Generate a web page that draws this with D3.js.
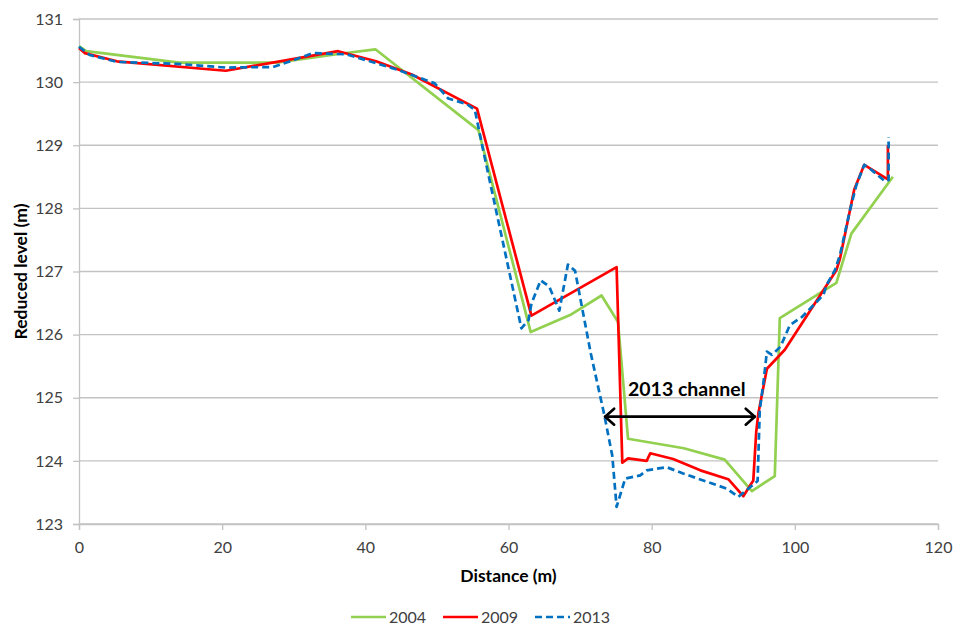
<!DOCTYPE html>
<html>
<head>
<meta charset="utf-8">
<script src="https://cdn.jsdelivr.net/npm/d3@7"></script>
<style>
  html, body { margin: 0; padding: 0; background: #fff; }
  svg { display: block; font-family: Lato, "Open Sans", sans-serif; }
</style>
</head>
<body>
<svg id="chart" width="956" height="628"></svg>
<script>
// Cross-section survey: distance across the section (m) vs reduced level (m)
const dist2004  = [0, 1, 14, 27.6, 36.5, 41.4, 55.8, 63.1, 68.6, 73.0, 75.3, 76.7, 84.5, 90.2, 94.0, 97.2, 97.9, 105.8, 107.9, 113.7];
const level2004 = [130.57, 130.49, 130.31, 130.31, 130.45, 130.52, 129.24, 126.04, 126.31, 126.62, 126.2, 124.35, 124.2, 124.02, 123.52, 123.76, 126.26, 126.82, 127.6, 128.5];

const dist2009  = [0, 0.8, 5.3, 20.5, 36.2, 41.5, 46.5, 55.6, 63.2, 75.1, 75.9, 76.7, 79.3, 79.8, 83.0, 86.8, 90.7, 92.8, 94.2, 94.6, 94.9, 96.1, 98.6, 105.8, 106.3, 108.3, 109.7, 113.0, 113.0];
const level2009 = [130.54, 130.46, 130.33, 130.18, 130.49, 130.33, 130.12, 129.58, 126.3, 127.07, 123.97, 124.04, 124.0, 124.12, 124.03, 123.85, 123.71, 123.44, 123.69, 124.45, 124.75, 125.46, 125.76, 127.02, 127.2, 128.3, 128.69, 128.46, 129.0];

const dist2013  = [0, 1.5, 5.3, 13.6, 20.6, 27.1, 29.0, 32.7, 37.4, 44.4, 49.7, 51.6, 54.2, 55.3, 56.5, 61.8, 62.8, 63.2, 64.5, 65.7, 67.1, 68.3, 69.3, 71.5, 73.4, 74.5, 75.1, 76.3, 78.4, 79.3, 82.1, 84.4, 90.5, 92.1, 93.3, 94.8, 95.1, 95.6, 96.1, 96.8, 98.0, 99.3, 101.0, 104.0, 104.4, 105.6, 106.3, 107.7, 108.6, 109.7, 110.7, 112.6, 113.1, 113.1];
const level2013 = [130.56, 130.43, 130.32, 130.29, 130.23, 130.24, 130.31, 130.46, 130.44, 130.2, 129.98, 129.74, 129.65, 129.56, 128.9, 126.1, 126.23, 126.49, 126.86, 126.76, 126.38, 127.11, 127.01, 125.7, 124.72, 124.08, 123.27, 123.72, 123.77, 123.85, 123.9, 123.8, 123.56, 123.43, 123.54, 123.68, 124.8, 125.23, 125.73, 125.68, 125.81, 126.15, 126.28, 126.63, 126.78, 127.02, 127.26, 127.97, 128.37, 128.69, 128.61, 128.43, 128.45, 129.13];

const seriesNames  = ["2004", "2009", "2013"];
const seriesColors = ["#92D050", "#FF0000", "#0070C0"];
const seriesDash   = [null, null, "7,4"];

const xTicks = [0, 20, 40, 60, 80, 100, 120];
const yTicks = [123, 124, 125, 126, 127, 128, 129, 130, 131];

// Extent of the 2013 channel, marked with a double arrow
const channelFrom = 73.5, channelTo = 94.4, channelLevel = 124.7;
const channelLabel = "2013 channel";

const svg = d3.select("#chart");
const margin = { left: 79, right: 18, top: 19, bottom: 104 };
const W = 956, H = 628;

const x = d3.scaleLinear().domain([0, 120]).range([margin.left, W - margin.right]);
const y = d3.scaleLinear().domain([123, 131]).range([H - margin.bottom, margin.top]);

// horizontal gridlines
svg.append("g")
  .selectAll("line")
  .data(yTicks)
  .join("line")
  .attr("x1", x(0)).attr("x2", x(120))
  .attr("y1", d => y(d)).attr("y2", d => y(d))
  .attr("stroke", "#c3c3c3").attr("stroke-width", 1.3);

// y axis
const yAxis = svg.append("g")
  .attr("transform", `translate(${x(0)},0)`)
  .call(d3.axisLeft(y).tickValues(yTicks).tickSize(6).tickPadding(10).tickFormat(d3.format("d")));
yAxis.select(".domain").attr("stroke", "#c3c3c3").attr("stroke-width", 1.3);
yAxis.selectAll(".tick line").attr("stroke", "#c3c3c3").attr("stroke-width", 1.3);
yAxis.selectAll("text").attr("font-size", 16).attr("fill", "#404040").attr("font-family", "Lato, sans-serif");

// x axis
const xAxis = svg.append("g")
  .attr("transform", `translate(0,${y(123)})`)
  .call(d3.axisBottom(x).tickValues(xTicks).tickSize(6).tickPadding(12).tickFormat(d3.format("d")));
xAxis.select(".domain").attr("stroke", "#c3c3c3").attr("stroke-width", 1.3);
xAxis.selectAll(".tick line").attr("stroke", "#c3c3c3").attr("stroke-width", 1.3);
xAxis.selectAll("text").attr("font-size", 16).attr("fill", "#404040").attr("font-family", "Lato, sans-serif");

// axis titles
svg.append("text")
  .attr("x", (x(0) + x(120)) / 2).attr("y", 582)
  .attr("text-anchor", "middle")
  .attr("font-size", 17.5).attr("font-weight", "bold").attr("fill", "#000")
  .text("Distance (m)");

svg.append("text")
  .attr("transform", `translate(27,${(y(123) + y(131)) / 2}) rotate(-90)`)
  .attr("text-anchor", "middle")
  .attr("font-size", 17.5).attr("font-weight", "bold").attr("fill", "#000")
  .text("Reduced level (m)");

// profiles
const series = [
  { name: seriesNames[0], xs: dist2004, ys: level2004 },
  { name: seriesNames[1], xs: dist2009, ys: level2009 },
  { name: seriesNames[2], xs: dist2013, ys: level2013 }
];
const line = d3.line().x(d => x(d[0])).y(d => y(d[1]));

svg.append("g")
  .selectAll("path")
  .data(series)
  .join("path")
  .attr("d", s => line(s.xs.map((v, i) => [v, s.ys[i]])))
  .attr("fill", "none")
  .attr("stroke", (s, i) => seriesColors[i])
  .attr("stroke-width", 2.7)
  .attr("stroke-linejoin", "round")
  .attr("stroke-dasharray", (s, i) => seriesDash[i]);

// channel arrow
const ax1 = x(channelFrom), ax2 = x(channelTo), ay = y(channelLevel);
const arrow = svg.append("g").attr("stroke", "#000").attr("stroke-width", 2.7).attr("fill", "none")
  .attr("stroke-linecap", "round").attr("stroke-linejoin", "round");
arrow.append("line").attr("x1", ax1).attr("x2", ax2).attr("y1", ay).attr("y2", ay);
arrow.append("path").attr("d", `M${ax1 + 9},${ay - 8} L${ax1},${ay} L${ax1 + 9},${ay + 8}`);
arrow.append("path").attr("d", `M${ax2 - 9},${ay - 8} L${ax2},${ay} L${ax2 - 9},${ay + 8}`);

svg.append("text")
  .attr("x", x(84.9)).attr("y", y(125.03))
  .attr("text-anchor", "middle")
  .attr("font-size", 19.5).attr("font-weight", "bold").attr("fill", "#000")
  .text(channelLabel);

// legend
const legendItems = [
  { x0: 351, x1: 386 },
  { x0: 443, x1: 478 },
  { x0: 535, x1: 570 }
];
const legendY = 617;
const lg = svg.append("g");
legendItems.forEach((it, i) => {
  lg.append("line")
    .attr("x1", it.x0).attr("x2", it.x1).attr("y1", legendY).attr("y2", legendY)
    .attr("stroke", seriesColors[i]).attr("stroke-width", 2.7)
    .attr("stroke-dasharray", seriesDash[i]);
  lg.append("text")
    .attr("x", it.x1 + 3).attr("y", legendY + 6)
    .attr("font-size", 16).attr("fill", "#404040")
    .text(seriesNames[i]);
});
</script>
</body>
</html>
